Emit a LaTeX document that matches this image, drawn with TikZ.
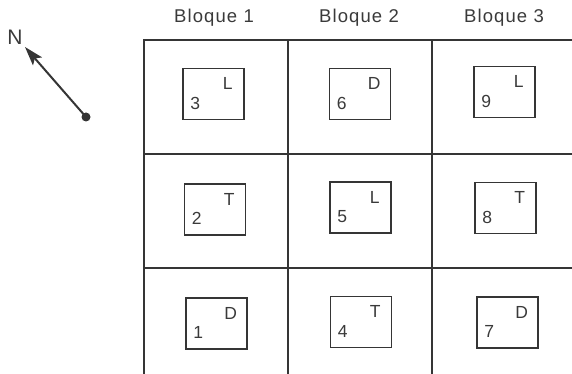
\documentclass[tikz,border=0pt]{standalone}
\usepackage{fontspec}
\setmainfont{Liberation Sans}
\usetikzlibrary{arrows.meta}
\definecolor{ink}{HTML}{353535}
\definecolor{txt}{HTML}{3A3A3A}
\begin{document}
\begin{tikzpicture}[x=1pt,y=-1pt,
  cell/.style={draw=ink,line width=2pt,minimum width=144pt,minimum height=114pt,inner sep=0pt,outer sep=0pt},
  plot/.style={draw=ink,line width=1.6pt,minimum width=61pt,minimum height=51pt,inner sep=0pt},
  head/.style={text=txt,font=\fontsize{18.5}{19}\selectfont\addfontfeatures{LetterSpace=6}},
  lab/.style={text=txt,font=\fontsize{17.5}{17}\selectfont,inner sep=0pt}]
\useasboundingbox (0,0) rectangle (572,374);
\clip (0,0) rectangle (572,374);
% cells
\foreach \c/\x in {1/216,2/360,3/504}{
  \foreach \r/\y in {1/97,2/211,3/325}{
    \node[cell] (cell\c\r) at (\x,\y) {};
  }
}
% headers
\node[head] (h1) at (214,18) {Bloque 1};
\node[head] (h2) at (359,18) {Bloque 2};
\node[head] (h3) at (504,18) {Bloque 3};
% plots: name/x/y/letter
\foreach \n/\x/\y/\t in {3/213.5/94/L,6/360/94/D,9/504.5/92/L,
                         2/215/209.5/T,5/360.5/207.5/L,8/505.5/208/T,
                         1/216.5/323.5/D,4/361/322/T,7/507.5/322.5/D}{
  \node[plot] (p\n) at (\x,\y) {};
  \node[lab,anchor=center] (n\n) at ([xshift=13pt,yshift=17pt]p\n.south west) {\n};
  \node[lab,anchor=center] (t\n) at ([xshift=-17pt,yshift=-16pt]p\n.north east) {\t};
}
% compass
\node[text=txt,font=\fontsize{21}{21}\selectfont,inner sep=0pt] (N) at (15,37) {N};
\node[circle,fill=ink,inner sep=0pt,minimum size=9pt] (dot) at (86,117) {};
\coordinate (tip) at (25,47);
\draw[ink,line width=2pt,-{Stealth[length=19pt,width=12pt,inset=4pt]}] (dot.center) -- (tip);
\end{tikzpicture}
\end{document}
